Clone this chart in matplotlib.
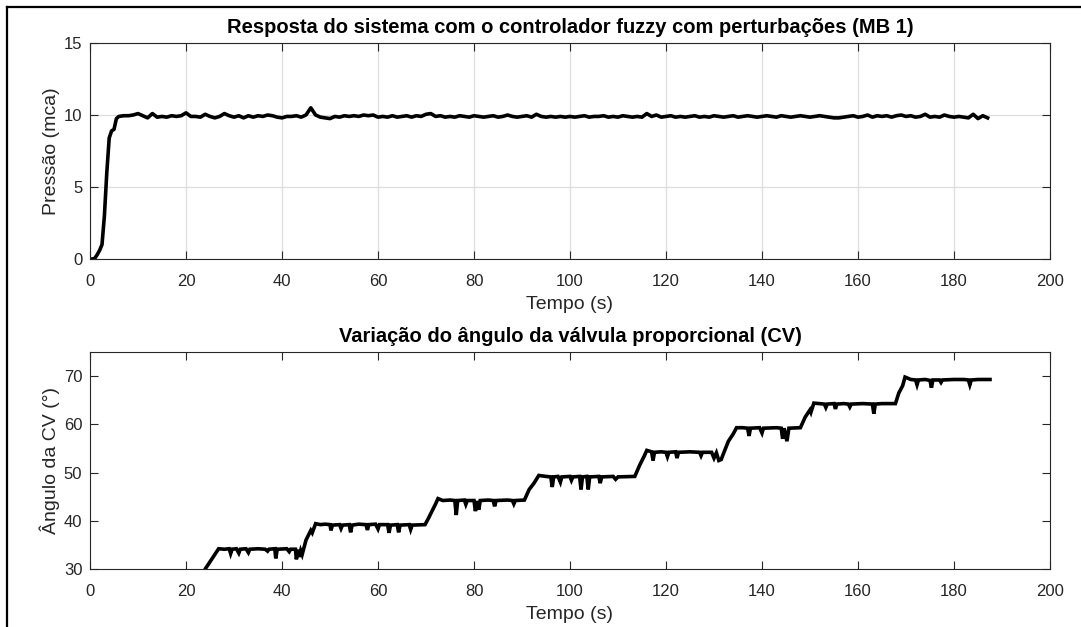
import numpy as np
import matplotlib
matplotlib.use("Agg")
import matplotlib.pyplot as plt
from matplotlib.lines import Line2D

plt.rcParams['font.family'] = ['Liberation Sans', 'DejaVu Sans']

# ---------------- data: pressure response ----------------
rise_time = [0, 0.5, 1, 1.5, 2, 2.5, 3, 3.5, 4, 4.5, 5, 5.5, 6]
rise_pressure = [0, 0, 0.05, 0.3, 0.6, 1.0, 3.0, 6.0, 8.4, 8.9, 9.0, 9.75, 9.9]
steady_time = list(range(7, 188))
steady_pressure = [
    9.95, 9.95, 10.0, 10.1, 9.95, 9.8, 10.1, 9.85, 9.9, 9.85,
    9.95, 9.9, 9.95, 10.15, 9.9, 9.9, 9.85, 10.05, 9.9, 9.8,
    9.9, 10.1, 9.95, 9.85, 9.95, 9.8, 9.95, 9.85, 9.95, 9.9,
    10.0, 9.95, 9.85, 9.8, 9.9, 9.9, 9.95, 9.85, 10.0, 10.5,
    10.0, 9.85, 9.8, 9.75, 9.9, 9.85, 9.95, 9.9, 9.95, 9.9,
    10.0, 9.95, 10.0, 9.85, 9.9, 9.85, 9.95, 9.85, 9.9, 9.95,
    9.85, 9.95, 9.9, 10.05, 10.1, 9.9, 9.95, 9.85, 9.9, 9.85,
    9.95, 9.9, 9.85, 9.95, 9.9, 9.85, 9.9, 9.95, 9.85, 9.9,
    10.0, 9.9, 9.85, 9.9, 9.95, 9.85, 10.05, 9.9, 9.85, 9.9,
    9.85, 9.9, 9.85, 9.9, 9.85, 9.9, 9.95, 9.85, 9.9, 9.9,
    9.95, 9.85, 9.9, 9.85, 9.95, 9.9, 9.85, 9.9, 9.85, 10.1,
    9.9, 10.0, 9.85, 9.9, 9.95, 9.85, 9.9, 9.85, 9.9, 9.95,
    9.85, 9.9, 9.85, 9.95, 9.9, 9.85, 9.9, 9.95, 9.85, 9.9,
    9.95, 9.9, 9.85, 9.9, 9.95, 9.9, 9.85, 9.95, 9.9, 9.85,
    9.9, 9.95, 9.9, 9.85, 9.9, 9.95, 9.9, 9.85, 9.8, 9.8,
    9.85, 9.9, 9.95, 9.85, 9.9, 10.0, 9.85, 9.95, 9.9, 9.95,
    9.85, 9.95, 10.0, 9.9, 9.95, 9.85, 9.9, 10.05, 9.85, 9.9,
    9.85, 10.0, 9.9, 9.85, 9.9, 9.85, 9.8, 10.05, 9.75, 9.95,
    9.8,
]

# ---------------- data: valve angle ----------------
cv_time = [
    23.5, 24, 25, 26, 26.8, 28, 29, 29.3, 29.6, 30.5, 31, 31.3, 32.5, 33, 33.3,
    35, 36.5, 37, 37.3, 38.5, 38.7, 39, 41, 41.5, 41.8, 42.8, 43, 43.3, 43.6,
    43.9, 44.2, 44.5, 45, 45.5, 46, 46.3, 47, 48, 49, 50, 50.2, 50.5, 52, 52.3,
    52.6, 54, 54.3, 54.6, 56, 57.5, 57.8, 58.1, 59.5, 60, 60.3, 62, 62.3, 62.6,
    64, 64.3, 64.6, 66.5, 66.8, 67.1, 69.8, 70.5, 71, 71.5, 72, 72.5, 73.5, 75,
    76, 76.3, 76.6, 78, 78.3, 78.6, 80, 80.3, 80.6, 81, 81.3, 83, 84, 84.3, 84.6,
    87, 88, 88.3, 88.6, 90.5, 91.5, 92.5, 93.5, 95, 96, 96.3, 96.6, 97.5, 98,
    98.3, 100, 100.3, 100.6, 102, 102.3, 102.6, 103.5, 103.8, 104.1, 106, 106.3,
    106.6, 109, 109.5, 110, 113.5, 114.5, 115.5, 116, 117, 117.3, 117.6, 119,
    120, 120.3, 120.6, 122, 122.3, 122.6, 125, 127, 127.3, 127.6, 129.5, 130,
    130.5, 131, 131.5, 132, 133, 134, 134.7, 136, 137, 137.3, 137.6, 139.5, 140,
    140.3, 143, 144, 144.3, 144.6, 145.2, 145.6, 148, 149, 150, 150.2, 150.8,
    152, 153, 153.3, 153.6, 155, 155.3, 155.6, 157, 158, 158.3, 158.6, 161, 163,
    163.3, 163.6, 165, 167.8, 168.5, 169.3, 169.8, 171, 172, 172.3, 172.6, 174,
    175, 175.3, 175.6, 177, 177.3, 177.6, 180, 182, 183, 183.3, 183.6, 185, 187.5,
]
cv_angle = [
    28.5, 30, 31.5, 33, 34.2, 34.1, 34.2, 33.2, 34.1, 34.2, 33.3, 34.1, 34.2, 33.4, 34.1,
    34.2, 34.1, 33.7, 34.1, 34.2, 32.2, 34.1, 34.2, 33.6, 34.1, 34.1, 32.0, 34.0, 32.5,
    33.8, 33.0, 34.1, 36.0, 37.0, 38.0, 37.5, 39.4, 39.2, 39.3, 39.2, 38.0, 39.1, 39.2, 38.4,
    39.1, 39.2, 37.6, 39.1, 39.3, 39.2, 38.1, 39.2, 39.3, 38.3, 39.2, 39.2, 37.5, 39.1,
    39.2, 37.6, 39.1, 39.2, 38.2, 39.1, 39.2, 40.5, 41.5, 42.5, 43.5, 44.6, 44.2, 44.3,
    44.2, 41.2, 44.2, 44.3, 43.4, 44.2, 44.2, 42.0, 44.1, 42.3, 44.2, 44.3, 44.2, 43.0, 44.2,
    44.3, 44.2, 43.5, 44.2, 44.3, 46.5, 47.8, 49.4, 49.2, 49.1, 47.0, 49.1, 49.2, 48.0,
    49.1, 49.2, 48.4, 49.1, 49.2, 46.5, 49.1, 49.2, 46.5, 49.1, 49.2, 47.8,
    49.1, 49.2, 48.6, 49.1, 49.2, 51.5, 53.5, 54.6, 54.3, 52.5, 54.2, 54.3,
    54.2, 53.3, 54.2, 54.3, 53.0, 54.2, 54.3, 54.2, 53.5, 54.2, 54.2, 53.0,
    54.1, 52.5, 52.7, 54.0, 56.5, 58.0, 59.3, 59.3, 59.2, 57.6, 59.2, 59.3, 58.2,
    59.2, 59.3, 59.2, 57.0, 59.2, 56.5, 59.2, 59.3, 61.5, 63.0, 62.5, 64.4,
    64.3, 64.2, 63.5, 64.2, 64.3, 63.2, 64.2, 64.3, 64.2, 63.6, 64.2, 64.3, 64.2,
    62.2, 64.2, 64.3, 64.3, 66.5, 68.0, 69.8, 69.3, 69.2, 68.2, 69.2, 69.3,
    69.1, 67.6, 69.2, 69.2, 68.7, 69.2, 69.3, 69.3, 69.2, 68.2, 69.2, 69.3, 69.3,
]

x_ticks = [0, 20, 40, 60, 80, 100, 120, 140, 160, 180, 200]
p_ticks = [0, 5, 10, 15]
cv_ticks = [30, 40, 50, 60, 70]

title_top = "Resposta do sistema com o controlador fuzzy com perturbações (MB 1)"
title_bottom = "Variação do ângulo da válvula proporcional (CV)"

# ---------------- figure ----------------
W, H = 1081, 627
fig = plt.figure(figsize=(W / 100, H / 100), dpi=100)
fig.patch.set_facecolor('white')

def px_axes(left, top, right, bottom):
    return fig.add_axes([left / W, 1 - bottom / H, (right - left) / W, (bottom - top) / H])

ax1 = px_axes(90, 43, 1050, 259)
ax2 = px_axes(90, 352, 1050, 569)

dark = '#262626'
for ax in (ax1, ax2):
    for s in ax.spines.values():
        s.set_color(dark)
        s.set_linewidth(0.8)
    ax.tick_params(direction='in', length=5.5, width=0.8, color=dark,
                   labelcolor=dark, labelsize=12, top=True, right=True)
    ax.tick_params(axis='x', pad=10.5)
    ax.tick_params(axis='y', pad=5.5)
    ax.set_xlim(0, 200)
    ax.set_xticks(x_ticks)
    ax.set_xlabel("Tempo (s)", fontsize=14, color=dark, labelpad=5.5)

t_p = rise_time + steady_time
p_p = rise_pressure + steady_pressure
ax1.plot(t_p, p_p, color='black', lw=2.6, solid_joinstyle='round')
ax1.set_ylim(0, 15)
ax1.set_yticks(p_ticks)
ax1.grid(True, color='#dedede', lw=0.9)
ax1.set_axisbelow(True)
ax1.set_ylabel("Pressão (mca)", fontsize=14, color=dark, labelpad=3)
ax1.set_title(title_top, fontsize=14.5, fontweight='bold', color='black', pad=7)

ax2.plot(cv_time, cv_angle, color='black', lw=2.6, solid_joinstyle='miter')
ax2.set_ylim(30, 75)
ax2.set_yticks(cv_ticks)
ax2.set_ylabel("Ângulo da CV (°)", fontsize=14, color=dark, labelpad=3)
ax2.set_title(title_bottom, fontsize=14.5, fontweight='bold', color='black', pad=7)

# outer frame (left and top edges)
fig.add_artist(Line2D([7.5 / W, 7.5 / W], [0, 1 - 6.5 / H], transform=fig.transFigure,
                      color='black', lw=1.6))
fig.add_artist(Line2D([7.5 / W, 1], [1 - 6.5 / H, 1 - 6.5 / H], transform=fig.transFigure,
                      color='black', lw=1.6))

fig.savefig("out.png", dpi=100)
